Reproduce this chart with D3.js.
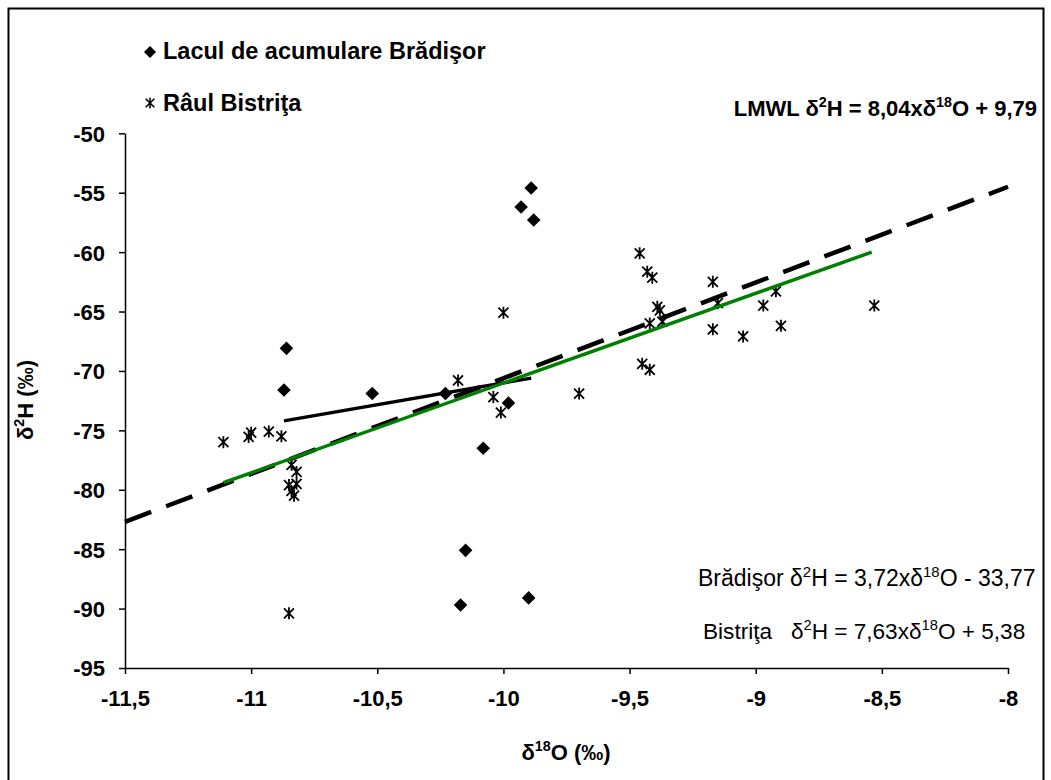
<!DOCTYPE html>
<html>
<head>
<meta charset="utf-8">
<script src="https://cdn.jsdelivr.net/npm/d3@7"></script>
<style>
  body { margin: 0; background: #fff; }
  svg { display: block; font-family: "Liberation Sans", Arial, sans-serif; }
  .tick text { font-size: 22px; font-weight: bold; fill: #000; }
</style>
</head>
<body>
<div id="chart"></div>
<script>
// Lacul de acumulare Brădişor (diamonds)
const bradisorX = [-10.86, -10.87, -10.52, -10.23, -9.98, -10.08, -9.89, -9.93, -9.88, -10.15, -10.17, -9.90];
const bradisorY = [-68.1, -71.6, -71.9, -71.9, -72.7, -76.5, -54.6, -56.2, -57.3, -85.1, -89.7, -89.1];

// Râul Bistriţa (stars)
const bistritaX = [-11.11, -11.01, -11.00, -10.93, -10.88, -10.84, -10.82, -10.85, -10.82, -10.84, -10.83, -10.85,
  -10.00, -10.18, -10.04, -10.01, -9.70,
  -9.46, -9.43, -9.41, -9.39, -9.38, -9.42, -9.37, -9.17, -9.17, -9.05, -8.97, -8.92, -8.90, -8.53, -9.45, -9.42, -9.15];
const bistritaY = [-76.0, -75.55, -75.2, -75.1, -75.5, -77.9, -78.5, -79.6, -79.5, -80.1, -80.5, -90.4,
  -65.1, -70.8, -72.2, -73.5, -71.9,
  -60.1, -61.65, -62.15, -64.6, -64.9, -66.0, -65.85, -62.5, -66.5, -67.1, -64.5, -63.3, -66.2, -64.5, -69.4, -69.9, -64.3];

// trend lines, end points
const lmwlX = [-11.5, -8], lmwlY = [-82.7, -54.5];
const bradisorFitX = [-10.87, -9.89], bradisorFitY = [-74.2, -70.6];
const bistritaFitX = [-11.11, -8.54], bistritaFitY = [-79.4, -60.0];

const xTicks = [-11.5, -11, -10.5, -10, -9.5, -9, -8.5, -8];
const yTicks = [-50, -55, -60, -65, -70, -75, -80, -85, -90, -95];

const W = 1051, H = 780;
const plot = { left: 125, right: 1008, top: 133.3, bottom: 668 };

const svg = d3.select("#chart").append("svg")
  .attr("width", W).attr("height", H);

svg.append("rect").attr("width", W).attr("height", H).attr("fill", "#fff");
// outer frame
svg.append("rect")
  .attr("x", 8.5).attr("y", 8.5).attr("width", 1035).attr("height", 800)
  .attr("fill", "none").attr("stroke", "#000").attr("stroke-width", 2);

const x = d3.scaleLinear().domain([-11.5, -8]).range([plot.left, plot.right]);
const y = d3.scaleLinear().domain([-95, -50]).range([plot.bottom, plot.top]);

const fmt = d => String(d).replace(".", ",");

// axes
svg.append("g")
  .attr("transform", `translate(${plot.left},0)`)
  .call(d3.axisLeft(y).tickValues(yTicks).tickSize(6).tickSizeOuter(0).tickPadding(14).tickFormat(fmt))
  .call(g => g.selectAll("path,line").attr("stroke", "#000").attr("stroke-width", 1.5))
  .call(g => g.selectAll("text").attr("dy", "0.36em"));

svg.append("g")
  .attr("transform", `translate(0,${plot.bottom})`)
  .call(d3.axisBottom(x).tickValues(xTicks).tickSize(6).tickSizeOuter(0).tickPadding(16).tickFormat(fmt))
  .call(g => g.selectAll("path,line").attr("stroke", "#000").attr("stroke-width", 1.5));

// markers
const diamond = r => `M0,${-r}L${r},0L0,${r}L${-r},0Z`;
const star = r => `M${-r},${-r}L${r},${r}M${-r},${r}L${r},${-r}M0,${-r - 1}L0,${r + 1}`;

svg.append("g").selectAll("path").data(bistritaX.map((v, i) => [v, bistritaY[i]])).join("path")
  .attr("transform", d => `translate(${x(d[0])},${y(d[1])})`)
  .attr("d", star(5))
  .attr("fill", "none").attr("stroke", "#000").attr("stroke-width", 1.8);

svg.append("g").selectAll("path").data(bradisorX.map((v, i) => [v, bradisorY[i]])).join("path")
  .attr("transform", d => `translate(${x(d[0])},${y(d[1])})`)
  .attr("d", diamond(6.8))
  .attr("fill", "#000");

// trend lines
const line = d3.line().x(d => x(d[0])).y(d => y(d[1]));
const pts = (xs, ys) => xs.map((v, i) => [v, ys[i]]);

svg.append("path").attr("d", line(pts(lmwlX, lmwlY)))
  .attr("fill", "none").attr("stroke", "#000").attr("stroke-width", 4.5)
  .attr("stroke-dasharray", "28,16");
svg.append("path").attr("d", line(pts(bradisorFitX, bradisorFitY)))
  .attr("fill", "none").attr("stroke", "#000").attr("stroke-width", 3.3);
svg.append("path").attr("d", line(pts(bistritaFitX, bistritaFitY)))
  .attr("fill", "none").attr("stroke", "#008000").attr("stroke-width", 3.5);

// legend
const legend = svg.append("g");
legend.append("path").attr("transform", "translate(150,52)").attr("d", diamond(6)).attr("fill", "#000");
legend.append("text").attr("x", 163).attr("y", 59)
  .attr("font-size", 23.5).attr("font-weight", "bold").text("Lacul de acumulare Brădişor");
legend.append("path").attr("transform", "translate(150,103)").attr("d", star(4.3))
  .attr("fill", "none").attr("stroke", "#000").attr("stroke-width", 1.6);
legend.append("text").attr("x", 163).attr("y", 111)
  .attr("font-size", 23.5).attr("font-weight", "bold").text("Râul Bistriţa");

// text with superscripts: parts are strings or {s: "..."} for superscripts
function eq(sel, parts) {
  let back = 0;
  parts.forEach(p => {
    if (typeof p === "object") {
      sel.append("tspan").attr("dy", -9 + back).attr("font-size", "0.65em").text(p.s);
      back = 9;
    } else {
      sel.append("tspan").attr("dy", back).text(p);
      back = 0;
    }
  });
}
const lmwl = svg.append("text").attr("x", 1037).attr("y", 116).attr("text-anchor", "end")
  .attr("font-size", 22).attr("font-weight", "bold");
eq(lmwl, ["LMWL δ", { s: "2" }, "H = 8,04xδ", { s: "18" }, "O + 9,79"]);

const eqB = svg.append("text").attr("x", 698).attr("y", 586).attr("font-size", 23);
eq(eqB, ["Brădişor δ", { s: "2" }, "H = 3,72xδ", { s: "18" }, "O - 33,77"]);

const eqR = svg.append("text").attr("x", 703).attr("y", 639).attr("font-size", 22.6)
  .style("white-space", "pre");
eq(eqR, ["Bistriţa   δ", { s: "2" }, "H = 7,63xδ", { s: "18" }, "O + 5,38"]);

// axis titles
const yt = svg.append("text").attr("transform", "translate(33,400) rotate(-90)")
  .attr("text-anchor", "middle").attr("font-size", 22).attr("font-weight", "bold");
eq(yt, ["δ", { s: "2" }, "H (‰)"]);

const xt = svg.append("text").attr("x", 566).attr("y", 760)
  .attr("text-anchor", "middle").attr("font-size", 22).attr("font-weight", "bold");
eq(xt, ["δ", { s: "18" }, "O (‰)"]);
</script>
</body>
</html>
